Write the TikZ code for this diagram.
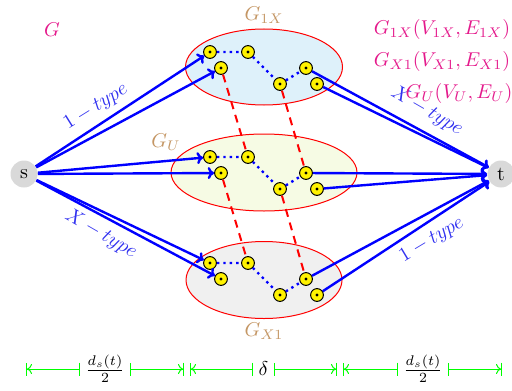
\documentclass[tikz,border=0pt]{standalone}
\usetikzlibrary{arrows.meta,shapes.geometric}
\definecolor{pinkc}{RGB}{228,26,140}
\definecolor{tanc}{RGB}{196,150,100}
\definecolor{fillA}{RGB}{222,241,250}
\definecolor{fillB}{RGB}{246,251,228}
\definecolor{fillC}{RGB}{240,240,240}
\definecolor{lblue}{RGB}{50,50,240}
\begin{document}
\begin{tikzpicture}[x=0.5pt,y=-0.5pt,
  vtx/.style={circle,draw=black,fill=yellow,minimum size=6.4pt,inner sep=0pt,line width=0.5pt,
    path picture={\fill[black] (path picture bounding box.center) circle (0.8pt);}},
  term/.style={circle,fill=gray!30,minimum size=13.5pt,inner sep=0pt},
  grp/.style={ellipse,draw=red,line width=0.5pt,inner sep=0pt},
  arr/.style={blue,line width=1.2pt,-{To[length=3.2pt,width=6pt]}},
  dots/.style={blue,line width=1.2pt,dotted},
  rdash/.style={red,line width=1pt,dash pattern=on 4pt off 3pt},
  typelbl/.style={text=lblue,inner sep=0pt},
  glbl/.style={text=tanc,inner sep=0pt},
  plbl/.style={text=pinkc,inner sep=0pt},
  dimtxt/.style={inner sep=2.6pt,outer sep=0pt},
  dim/.style={green,line width=0.5pt}]
\useasboundingbox (0,0) rectangle (512,390);

% group ellipses
\node[grp,fill=fillA,minimum width=78.5pt,minimum height=38pt] (E1) at (264,67) {};
\node[grp,fill=fillB,minimum width=93pt,minimum height=38.5pt] (E2) at (264,172.5) {};
\node[grp,fill=fillC,minimum width=78pt,minimum height=38.5pt] (E3) at (264,280) {};

% vertices
\foreach \g/\y in {T/68,M/173,B/279}{
  \node[vtx] (\g a) at (210,\y-16) {};
  \node[vtx] (\g b) at (248,\y-16) {};
  \node[vtx] (\g c) at (221,\y) {};
  \node[vtx] (\g d) at (306,\y) {};
  \node[vtx] (\g e) at (280,\y+16) {};
  \node[vtx] (\g f) at (317,\y+16) {};
}

% red dashed links
\draw[rdash] (Tc) -- (Mb);
\draw[rdash] (Te) -- (Md);
\draw[rdash] (Mc) -- (Bb);
\draw[rdash] (Me) -- (Bd);

% dotted paths
\foreach \g in {T,M,B}{
  \draw[dots] (\g a) -- (\g b) -- (\g e) -- (\g d);
}

% terminals
\node[term] (s) at (24,174) {s};
\node[term] (t) at (501,174) {t};

% arrows
\foreach \g in {T,M,B}{
  \draw[arr] (s) -- (\g a);
  \draw[arr] (s) -- (\g c);
  \draw[arr] (\g d) -- (t);
  \draw[arr] (\g f) -- (t);
}

% type labels
\node[typelbl,rotate=32] (l1) at (96,107) {$1-type$};
\node[typelbl,rotate=-30] (l2) at (101,234) {$X-type$};
\node[typelbl,rotate=-30] (l3) at (427,111) {$X-type$};
\node[typelbl,rotate=31] (l4) at (432,240) {$1-type$};

% group labels
\node[glbl] (g1) at (264,15) {$G_{1X}$};
\node[glbl] (g2) at (166,142) {$G_U$};
\node[glbl] (g3) at (264,331) {$G_{X1}$};

% pink labels
\node[plbl] (G) at (52,30) {$G$};
\node[plbl] (p1) at (442,30) {$G_{1X}(V_{1X},E_{1X})$};
\node[plbl] (p2) at (442,62) {$G_{X1}(V_{X1},E_{X1})$};
\node[plbl] (p3) at (459,93) {$G_U(V_U,E_U)$};

% dimension lines
\coordinate (m1) at (26,369);
\coordinate (m2) at (184,369);
\coordinate (m3) at (190,369);
\coordinate (m4) at (337,369);
\coordinate (m5) at (343,369);
\coordinate (m6) at (502,369);
\node[dimtxt] (f1) at (105,369) {$\frac{d_s(t)}{2}$};
\node[dimtxt] (f2) at (263.5,369) {$\delta$};
\node[dimtxt] (f3) at (423,369) {$\frac{d_s(t)}{2}$};
\draw[dim,{Bar[width=6.5pt]To[length=2.5pt,width=5pt]}-{Bar[width=6.5pt]}] (m1) -- (f1.west);
\draw[dim,{Bar[width=6.5pt]}-{To[length=2.5pt,width=5pt]Bar[width=6.5pt]}] (f1.east) -- (m2);
\draw[dim,{Bar[width=6.5pt]To[length=2.5pt,width=5pt]}-{Bar[width=6.5pt]}] (m3) -- (f2.west);
\draw[dim,{Bar[width=6.5pt]}-{To[length=2.5pt,width=5pt]Bar[width=6.5pt]}] (f2.east) -- (m4);
\draw[dim,{Bar[width=6.5pt]To[length=2.5pt,width=5pt]}-{Bar[width=6.5pt]}] (m5) -- (f3.west);
\draw[dim,{Bar[width=6.5pt]}-{To[length=2.5pt,width=5pt]Bar[width=6.5pt]}] (f3.east) -- (m6);
\end{tikzpicture}
\end{document}
